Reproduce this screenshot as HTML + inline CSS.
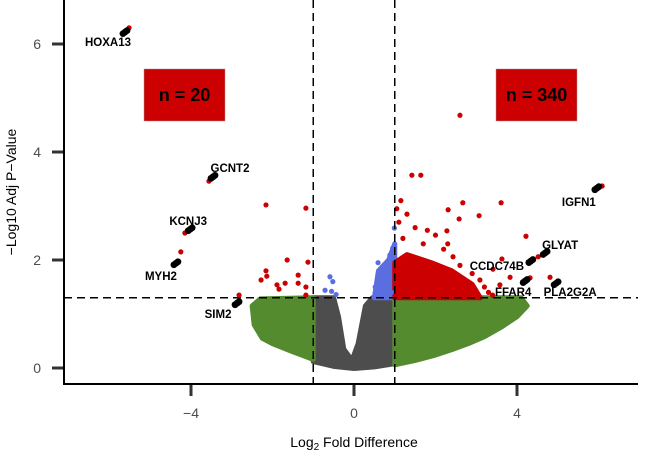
<!DOCTYPE html>
<html><head><meta charset="utf-8"><style>
body{margin:0;background:#fff;}
svg{display:block;font-family:"Liberation Sans",sans-serif;}
</style></head><body>
<svg id="chart" width="647" height="451" viewBox="0 0 647 451"></svg>
<script>
// ---- data (log2 fold diff, -log10 adj p) ----
const greyEnvX=[-1,-0.5,-0.38,-0.25,-0.05,0.1,0.28,0.45,1,1,0.5,0,-0.5,-1];
const greyEnvY=[1.3,1.3,0.95,0.35,0.14,0.45,1.15,1.3,1.3,0.08,0.02,-0.01,0.03,0.12];
const greenRX=[1,4.1,4.25,4.0,3.6,3.2,2.8,2.4,2,1.5,1];
const greenRY=[1.3,1.3,1.15,0.95,0.75,0.58,0.45,0.34,0.24,0.14,0.06];
const greenLX=[-1,-2.3,-2.5,-2.45,-2.25,-2,-1.5,-1];
const greenLY=[1.3,1.28,1.15,0.8,0.55,0.45,0.3,0.16];
const redDenseX=[1,1,1.3,1.9,2.4,2.9,3.1];
const redDenseY=[1.3,1.95,2.1,1.95,1.8,1.55,1.3];
const blueEnvX=[0.5,1,1,0.85,0.6];
const blueEnvY=[1.3,1.3,2.3,2.0,1.8];
const redX=[2.6,1.42,1.64,2.67,3.61,2.31,3.07,2.58,4.22,2.28,2.0,2.43,3.63,4.32,3.41,3.83,3.09,3.58,3.02,-2.16,-1.18,-1.64,-1.13,-2.16,-2.28,-2.14,-1.37,-1.89,-1.69,-1.37,-1.18,-1.84,-1.18,2.6,2.9,3.2,3.3,2.2,1.7,1.2,1.1,1.3,1.5,1.8,2.3,1.05,1.15,3.4,2.7];
const redY=[4.68,3.57,3.57,3.06,3.06,2.93,2.82,2.76,2.44,2.54,2.46,2.06,2.02,1.67,1.83,1.68,1.63,1.54,1.39,3.02,2.96,2.0,1.96,1.8,1.63,1.7,1.72,1.54,1.57,1.57,1.5,1.46,1.35,1.9,1.75,1.5,1.4,2.2,2.3,2.4,2.7,2.85,2.6,2.55,2.3,2.95,3.1,1.35,1.62];
const blueX=[0.99,0.95,0.88,0.59,0.69,0.81,0.71,0.52,0.83,0.65,0.92,-0.59,-0.52,-0.71,-0.55,-0.44];
const blueY=[2.59,2.22,2.09,1.95,1.85,1.78,1.63,1.5,1.5,1.4,1.4,1.69,1.6,1.44,1.42,1.36];
const genes=["HOXA13","GCNT2","KCNJ3","MYH2","SIM2","IGFN1","GLYAT","CCDC74B","FFAR4","PLA2G2A"];
const geneX=[-5.62,-3.46,-4.02,-4.37,-2.87,5.96,4.69,4.34,4.2,4.96];
const geneY=[6.22,3.54,2.57,1.94,1.2,3.33,2.13,1.98,1.61,1.57];
const geneRedX=[-5.52,-3.56,-4.15,-4.25,-2.82,6.09,4.52,null,null,4.81];
const geneRedY=[6.3,3.46,2.5,2.15,1.35,3.37,2.06,null,null,1.68];
const labelDX=[-17,17,-2,-15,-19,-18,15,-34,-12,14];
const labelDY=[10,-9,-8,13,11,14,-8,5,11,9];
const xTicks=[-4,0,4];
const yTicks=[0,2,4,6];
const counts=["n = 20","n = 340"];
// ---- scales ----
const X=v=>354+v*40.75, Y=v=>368-v*54;
const svg=document.getElementById('chart');
const NS="http://www.w3.org/2000/svg";
function mk(tag,attrs,parent){const e=document.createElementNS(NS,tag);for(const k in attrs)e.setAttribute(k,attrs[k]);(parent||svg).appendChild(e);return e;}
function poly(xs,ys,col,name){const p=mk('polygon',{points:xs.map((x,i)=>X(x)+','+Y(ys[i])).join(' '),fill:col,stroke:col,'stroke-width':5,'stroke-linejoin':'round'});

}
poly(greyEnvX,greyEnvY,'#4d4d4d','nonsig-cloud');
poly(greenRX,greenRY,'#548b2f','fc-only-cloud-right');
poly(greenLX,greenLY,'#548b2f','fc-only-cloud-left');
poly(blueEnvX,blueEnvY,'#5a6ee0','p-only-cloud');
poly(redDenseX,redDenseY,'#cc0000','significant-cloud');
blueX.forEach((x,i)=>{const c=mk('circle',{cx:X(x),cy:Y(blueY[i]),r:2.6,fill:'#5a6ee0'});

});
redX.forEach((x,i)=>{const c=mk('circle',{cx:X(x),cy:Y(redY[i]),r:2.6,fill:'#cc0000'});

});
// dashed thresholds
[[-1],[1]].forEach(([v])=>{const l=mk('line',{x1:X(v),x2:X(v),y1:0,y2:384,stroke:'#000','stroke-width':1.5,'stroke-dasharray':'8,5'});

});
const hl=mk('line',{x1:64,x2:638,y1:Y(1.3),y2:Y(1.3),stroke:'#000','stroke-width':1.5,'stroke-dasharray':'8,5'});


// genes
genes.forEach((g,i)=>{
 if(geneRedX[i]!==null){const r=mk('circle',{cx:X(geneRedX[i]),cy:Y(geneRedY[i]),r:2.6,fill:'#cc0000'});
 
 }
 const gx=X(geneX[i]),gy=Y(geneY[i]);
 const b=mk('g',{});
 
 
 [[-2,1.5],[0,0],[2,-1.5]].forEach(([dx,dy])=>mk('circle',{cx:gx+dx,cy:gy+dy,r:3.4,fill:'#000'},b));
 const t=mk('text',{x:gx+labelDX[i],y:gy+labelDY[i]+4,'text-anchor':'middle','font-size':11.5,'font-weight':'bold',fill:'#000'});
 t.textContent=g;
 
 
});
// count boxes
[[144,counts[0]],[496,counts[1]]].forEach(([bx,txt],i)=>{
 const r=mk('rect',{x:bx,y:69,width:81,height:52,fill:'#cc0000',stroke:'#999','stroke-width':0.5});
 
 
 const t=mk('text',{x:bx+40.5,y:101,'text-anchor':'middle','font-size':18,'font-weight':'bold',fill:'#000'});
 t.textContent=txt;
 
 
});
// axes
const ax=mk('path',{d:'M64,0 V384 H638',fill:'none',stroke:'#000','stroke-width':2});


yTicks.forEach(v=>{
 const l=mk('line',{x1:52,x2:63,y1:Y(v),y2:Y(v),stroke:'#333','stroke-width':3});
 
 
 const t=mk('text',{x:41,y:Y(v)+5,'text-anchor':'end','font-size':14,fill:'#4d4d4d'});
 t.textContent=v;
 
 
});
xTicks.forEach(v=>{
 const l=mk('line',{x1:X(v),x2:X(v),y1:385,y2:396,stroke:'#333','stroke-width':3});
 
 
 const t=mk('text',{x:X(v),y:418,'text-anchor':'middle','font-size':14,fill:'#4d4d4d'});
 t.textContent=v<0?'\u2212'+(-v):v;
 
 
});
const xt=mk('text',{x:354,y:447,'text-anchor':'middle','font-size':14,fill:'#000'});
xt.innerHTML='Log<tspan font-size="10" dy="3">2</tspan><tspan dy="-3"> Fold Difference</tspan>';


const yt=mk('text',{x:0,y:0,'text-anchor':'middle','font-size':14,fill:'#000',transform:'translate(16,192) rotate(-90)'});
yt.textContent='\u2212Log10 Adj P\u2212Value';


</script>
</body></html>
